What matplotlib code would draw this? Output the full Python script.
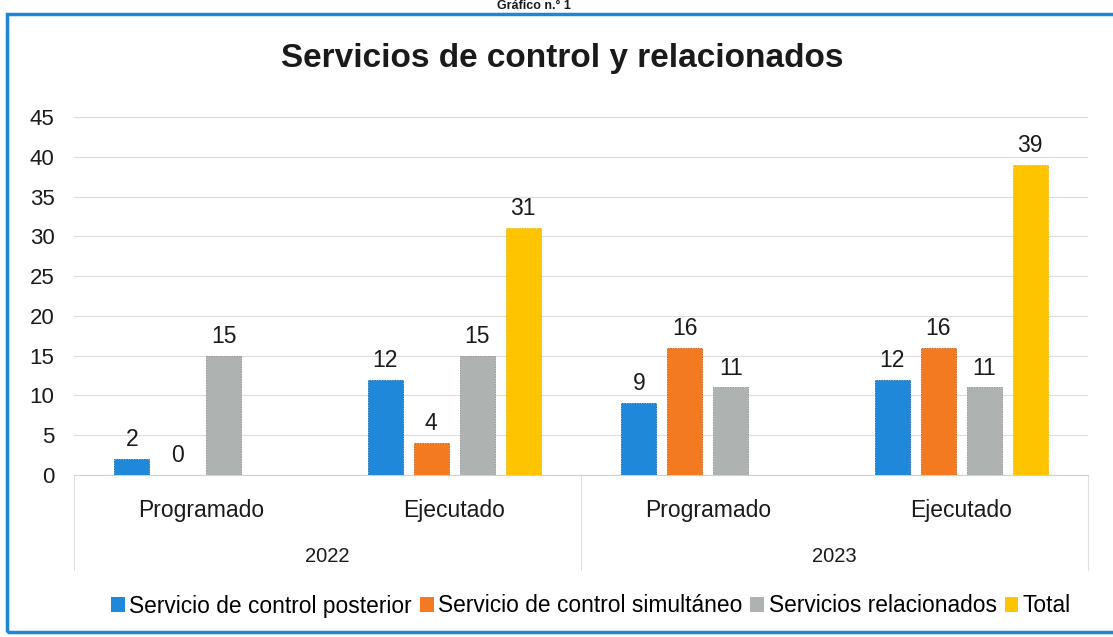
import matplotlib.pyplot as plt
from matplotlib.patches import Rectangle
import numpy as np

plt.rcParams['font.family'] = ['Liberation Sans', 'DejaVu Sans']

# data
categorias = ['Programado', 'Ejecutado', 'Programado', 'Ejecutado']
anios = ['2022', '2023']
series = ['Servicio de control posterior', 'Servicio de control simultáneo',
          'Servicios relacionados', 'Total']
posterior = [2, 12, 9, 12]
simultaneo = [0, 4, 16, 16]
relacionados = [15, 15, 11, 11]
total = [None, 31, None, 39]
colores = ['#1f88d9', '#f47a22', '#aeb2b1', '#ffc400']
bordes = ['#1466a8', '#c95c12', '#8e9291', '#f0b400']

fig = plt.figure(figsize=(11.13, 6.37), dpi=100)
ax = fig.add_axes([74 / 1113, 1 - 475 / 637, (1088 - 74) / 1113, (475 - 117) / 637])

x = np.arange(len(categorias))
ancho = 0.138
paso = 0.181
valores = [posterior, simultaneo, relacionados, total]
for i, vals in enumerate(valores):
    xs = x + (i - 1.5) * paso
    for xi, v in zip(xs, vals):
        if v is None:
            continue
        ax.bar(xi, v, ancho, color=colores[i], edgecolor=bordes[i], linewidth=0.6,
               linestyle=(0, (2, 1)), zorder=3)
        ax.text(xi, v + 1.0, str(v), ha='center', va='bottom', fontsize=16.5, color='#1a1a1a')
    ax.bar(np.nan, 0, color=colores[i], label=series[i])

ax.set_xlim(-0.5, 3.5)
ax.set_ylim(0, 45)
ax.set_yticks(range(0, 46, 5))
ax.tick_params(axis='y', length=0, labelsize=16, pad=14, labelcolor='#1a1a1a')
ax.grid(axis='y', color='#dcdcdc', linewidth=0.8, zorder=0)
for s in ['top', 'right', 'left']:
    ax.spines[s].set_visible(False)
ax.spines['bottom'].set_color('#d0d0d0')

ax.set_xticks(x)
ax.set_xticklabels(categorias, fontsize=16.5, color='#1a1a1a')
ax.tick_params(axis='x', length=0, pad=17)

# second level: years and separators
for j, a in enumerate(anios):
    ax.text(0.5 + 2 * j, -10.2, a, ha='center', va='center', fontsize=14.5, color='#1a1a1a')
for xs in [-0.5, 1.5, 3.5]:
    ax.plot([xs, xs], [0, -12.0], color='#e0e0e0', linewidth=0.8, clip_on=False)

fig.text(0.505, 1 - 58 / 637, 'Servicios de control y relacionados', ha='center', va='center',
         fontsize=24, fontweight='bold', color='#1a1a1a')
fig.text(0.48, 1 - 6 / 637, 'Gráfico n.° 1', ha='center', va='center', fontsize=9,
         fontweight='bold', color='#1a1a1a')

fig.legend(loc='center', bbox_to_anchor=(0.531, 1 - 606 / 637), ncol=4, frameon=False,
           fontsize=16.4, handlelength=0.6, handleheight=0.6, handletextpad=0.2,
           columnspacing=0.35)

fig.patches.append(Rectangle((7 / 1113, 1 - 632 / 637), 1.02, (632 - 14) / 637,
                             transform=fig.transFigure, fill=False,
                             edgecolor='#1e86d4', linewidth=2.5))

fig.savefig('out.png', dpi=100)
